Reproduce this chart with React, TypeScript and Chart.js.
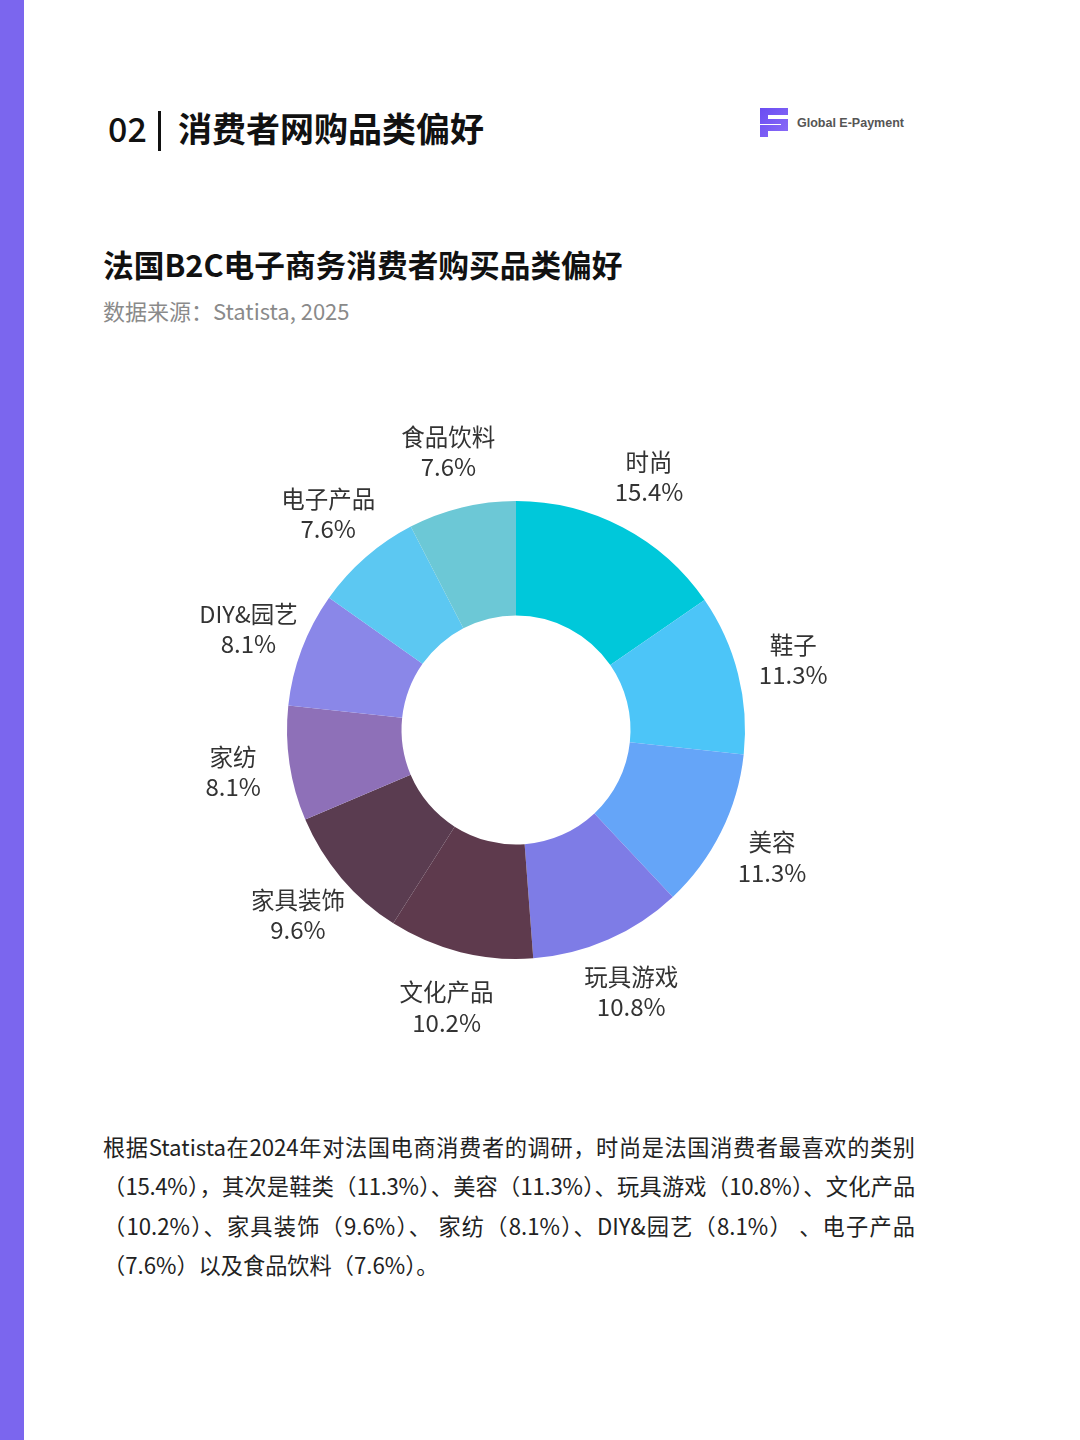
import React, { useEffect, useRef } from "react";
import { Chart, registerables } from "chart.js";

Chart.register(...registerables);

const categories = ["时尚", "鞋子", "美容", "玩具游戏", "文化产品", "家具装饰", "家纺", "DIY&园艺", "电子产品", "食品饮料"];
const shares = [15.4, 11.3, 11.3, 10.8, 10.2, 9.6, 8.1, 8.1, 7.6, 7.6];
const sliceColors = ["#00C8DA", "#4CC5F8", "#65A5F8", "#7E7CE6", "#5E3A4D", "#5A3C50", "#8E70B8", "#8A87E8", "#5CC8F2", "#6CC8D6"];

const bodyLines = [
  "根据Statista在2024年对法国电商消费者的调研，时尚是法国消费者最喜欢的类别",
  "（15.4%），其次是鞋类（11.3%）、美容（11.3%）、玩具游戏（10.8%）、文化产品",
  "（10.2%）、家具装饰（9.6%）、 家纺（8.1%）、DIY&园艺（8.1%） 、电子产品",
  "（7.6%）以及食品饮料（7.6%）。",
];

const FONT = '"Noto Sans CJK SC", "Noto Sans", sans-serif';

const outerLabels = {
  id: "outerLabels",
  afterDraw(chart: any) {
    const ctx = chart.ctx;
    const meta = chart.getDatasetMeta(0);
    ctx.save();
    ctx.fillStyle = "#333333";
    ctx.textAlign = "center";
    ctx.textBaseline = "middle";
    meta.data.forEach((arc: any, i: number) => {
      const mid = (arc.startAngle + arc.endAngle) / 2;
      const r = arc.outerRadius + 57;
      const px = arc.x + Math.cos(mid) * r;
      const py = arc.y + Math.sin(mid) * r;
      ctx.font = `23.5px ${FONT}`;
      ctx.fillText(categories[i], px, py - 15);
      ctx.font = `24px ${FONT}`;
      ctx.fillText(shares[i].toFixed(1) + "%", px, py + 15);
    });
    ctx.restore();
  },
};

function Donut() {
  const ref = useRef<HTMLCanvasElement>(null);
  useEffect(() => {
    if (!ref.current) return;
    const chart = new Chart(ref.current, {
      type: "doughnut",
      data: {
        labels: categories,
        datasets: [
          {
            data: shares,
            backgroundColor: sliceColors,
            borderWidth: 0,
          },
        ],
      },
      options: {
        animation: false,
        responsive: false,
        cutout: "50%",
        layout: { padding: 121 },
        plugins: {
          legend: { display: false },
          tooltip: { enabled: false },
        },
      },
      plugins: [outerLabels],
    });
    return () => chart.destroy();
  }, []);
  return (
    <canvas
      ref={ref}
      width={700}
      height={700}
      style={{ position: "absolute", left: 166, top: 380, width: 700, height: 700 }}
    />
  );
}

function Logo() {
  return (
    <div style={{ position: "absolute", left: 760, top: 108, display: "flex", alignItems: "center" }}>
      <svg width="29" height="29" viewBox="0 0 29 29">
        <defs>
          <linearGradient id="lg" x1="0" y1="0" x2="1" y2="1">
            <stop offset="0" stopColor="#6A4DF2" />
            <stop offset="1" stopColor="#8B6CF7" />
          </linearGradient>
        </defs>
        <path d="M0 0 H28 V7 H8 V11 H28 V23 H8 V29 H0 V17 H21 V16 H0 Z" fill="url(#lg)" />
      </svg>
      <span
        style={{
          marginLeft: 8,
          fontFamily: '"Liberation Sans", Arial, sans-serif',
          fontWeight: 700,
          fontSize: 12.5,
          color: "#555555",
        }}
      >
        Global E-Payment
      </span>
    </div>
  );
}

export default function App() {
  return (
    <div
      style={{
        position: "absolute",
        left: 0,
        top: 0,
        width: 1080,
        height: 1440,
        background: "#ffffff",
        overflow: "hidden",
        fontFamily: FONT,
      }}
    >
      <div style={{ position: "absolute", left: 0, top: 0, width: 24, height: 1440, background: "#7B66EE" }} />

      <div
        style={{
          position: "absolute",
          left: 108,
          top: 111,
          fontSize: 34,
          lineHeight: "34px",
          fontWeight: 500,
          color: "#111",
        }}
      >
        02
      </div>
      <div style={{ position: "absolute", left: 158, top: 111, width: 3, height: 40, background: "#111" }} />
      <div
        style={{
          position: "absolute",
          left: 178,
          top: 111,
          fontSize: 34,
          lineHeight: "34px",
          fontWeight: 700,
          color: "#111",
          whiteSpace: "nowrap",
        }}
      >
        消费者网购品类偏好
      </div>

      <Logo />

      <div
        style={{
          position: "absolute",
          left: 103,
          top: 249,
          fontSize: 30.7,
          lineHeight: "30px",
          fontWeight: 700,
          color: "#111",
          whiteSpace: "nowrap",
        }}
      >
        法国B2C电子商务消费者购买品类偏好
      </div>
      <div
        style={{
          position: "absolute",
          left: 103,
          top: 299,
          fontSize: 22,
          lineHeight: "22px",
          color: "#8A8A8A",
          whiteSpace: "nowrap",
        }}
      >
        数据来源：Statista, 2025
      </div>

      <Donut />

      <div style={{ position: "absolute", left: 103, top: 1127, width: 812, color: "#222" }}>
        {bodyLines.map((l, i) => (
          <div
            key={i}
            style={{
              fontSize: 22.2,
              lineHeight: "39.3px",
              whiteSpace: "nowrap",
              textAlign: i < bodyLines.length - 1 ? "justify" : "left",
              textAlignLast: i < bodyLines.length - 1 ? "justify" : "left",
              letterSpacing: i === 1 ? -0.3 : 0,
            }}
          >
            {l}
          </div>
        ))}
      </div>
    </div>
  );
}
